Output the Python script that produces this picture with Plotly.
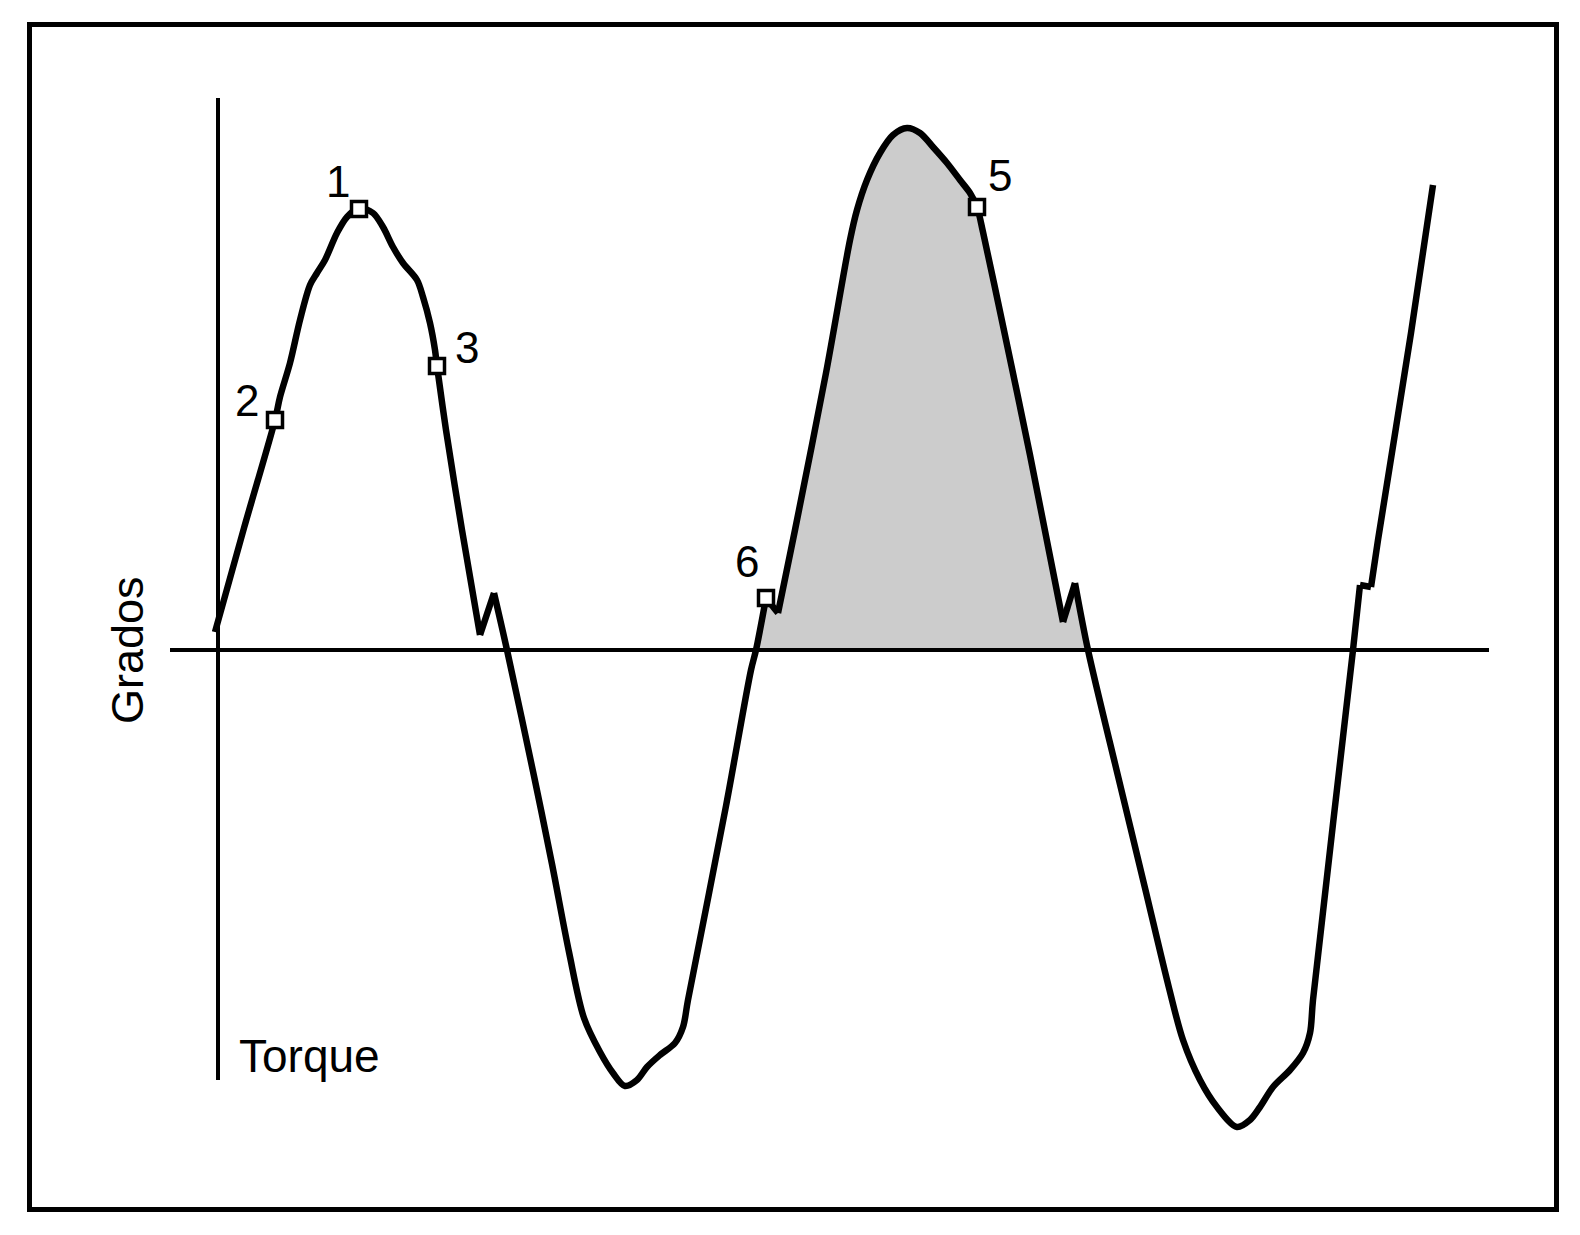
import plotly.graph_objects as go

# curve (x, y in picture units, y pointing down)
curve_x = [215, 244, 275, 280, 290, 300, 310, 317, 325, 337, 347, 359,
           373, 383, 393, 403, 417, 423, 430, 435, 437, 446, 462, 480, 494,
           507, 534, 552, 569, 584, 600, 613, 625, 637, 647, 660, 675, 683, 688,
           726, 751, 756, 766, 778, 795, 826, 850, 857, 867, 880, 893, 907, 920, 933,
           947, 960, 970, 977, 983, 998, 1030, 1063, 1075, 1088, 1118, 1145, 1169,
           1183, 1200, 1217, 1237, 1250, 1260, 1273, 1290, 1303, 1310, 1313, 1353,
           1360, 1371, 1378, 1411, 1433]
curve_y = [632, 528, 420, 397, 363, 320, 285, 273, 260, 233, 217, 208,
           213, 227, 247, 263, 280, 297, 323, 350, 366, 430, 530, 635, 593,
           650, 776, 864, 952, 1018, 1052, 1073, 1086, 1080, 1067, 1055, 1043, 1027, 1000,
           806, 670, 650, 598, 613, 530, 373, 240, 210, 180, 153, 135, 128, 133, 147,
           163, 180, 193, 207, 232, 302, 455, 622, 583, 650, 776, 888, 988,
           1040, 1080, 1107, 1127, 1120, 1107, 1087, 1070, 1053, 1033, 1000, 650,
           585, 587, 540, 333, 185]

# sharp corners of the break marks
corner_x = [480, 494, 766, 778, 1063, 1075, 1360, 1371]

# shaded area between these two crossings of the base line
fill_from_x = 756
fill_to_x = 1088
base_y = 650

# point markers
point_x = [359, 275, 437, 977, 766]
point_y = [209, 420, 366, 207, 598]
point_labels = ["1", "2", "3", "5", "6"]
label_x = [338, 247, 467, 1000, 747]
label_y = [181, 400, 347, 175, 561]

font_family = "Liberation Sans, Arial, Helvetica, sans-serif"

fig = go.Figure()

# shaded area
i0 = curve_x.index(fill_from_x)
i1 = curve_x.index(fill_to_x)
fig.add_trace(go.Scatter(
    x=curve_x[i0:i1 + 1] + [fill_from_x],
    y=curve_y[i0:i1 + 1] + [base_y],
    fill="toself", fillcolor="#cccccc", mode="lines",
    line=dict(width=0, color="#cccccc"),
    hoverinfo="skip", showlegend=False))

# axis lines
fig.add_shape(type="line", x0=218, x1=218, y0=98, y1=1080,
              line=dict(color="black", width=4))
fig.add_shape(type="line", x0=170, x1=1489, y0=base_y, y1=base_y,
              line=dict(color="black", width=4))

# curve split at sharp corners, smooth in between
cuts = [0] + [curve_x.index(c) for c in corner_x] + [len(curve_x) - 1]
for a, b in zip(cuts[:-1], cuts[1:]):
    fig.add_trace(go.Scatter(
        x=curve_x[a:b + 1], y=curve_y[a:b + 1], mode="lines",
        line=dict(color="black", width=6.5, shape="spline", smoothing=0.9),
        hoverinfo="skip", showlegend=False))

fig.add_trace(go.Scatter(
    x=point_x, y=point_y, mode="markers",
    marker=dict(symbol="square", size=15, color="white",
                line=dict(color="black", width=3.5)),
    hoverinfo="skip", showlegend=False))

for lx, ly, t in zip(label_x, label_y, point_labels):
    fig.add_annotation(x=lx, y=ly, text=t, showarrow=False,
                       xanchor="center", yanchor="middle",
                       font=dict(size=44, color="black", family=font_family))

fig.add_annotation(x=127, y=650, text="Grados", textangle=-90, showarrow=False,
                   xanchor="center", yanchor="middle",
                   font=dict(size=45, color="black", family=font_family))
fig.add_annotation(x=237, y=1056, text="Torque", showarrow=False,
                   xanchor="left", yanchor="middle",
                   font=dict(size=46, color="black", family=font_family))

# frame
fig.add_shape(type="rect", x0=29.5, x1=1556.5, y0=24.5, y1=1209.5,
              line=dict(color="black", width=5))

# the page has an 8px body margin, so the axes start at 8 to keep picture units
fig.update_layout(
    width=1572, height=1227,
    margin=dict(l=0, r=0, t=0, b=0),
    plot_bgcolor="white", paper_bgcolor="white",
    xaxis=dict(range=[8, 1580], visible=False, fixedrange=True),
    yaxis=dict(range=[1235, 8], visible=False, fixedrange=True),
)

fig.write_html("out.html")
